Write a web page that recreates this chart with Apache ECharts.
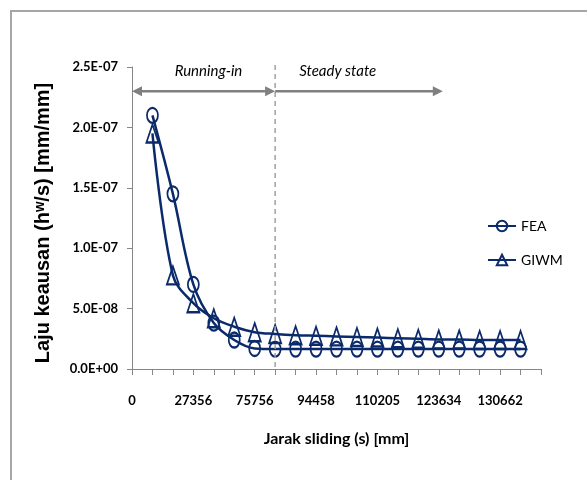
<!DOCTYPE html>
<html><head><meta charset="utf-8">
<script src="https://cdn.jsdelivr.net/npm/echarts@6/dist/echarts.min.js"></script>
<style>html,body{margin:0;padding:0;background:#fff}#c{width:587px;height:480px}</style>
</head><body><div id="c"></div>
<script>
// ---- data ----
const categories = ['0','','','27356','','','75756','','','94458','','','110205','','','123634','','','130662','',''];
const feaValues = [2.10e-7,1.45e-7,7.0e-8,3.8e-8,2.4e-8,1.7e-8,1.65e-8,1.65e-8,1.65e-8,1.65e-8,1.65e-8,1.65e-8,1.65e-8,1.65e-8,1.65e-8,1.65e-8,1.65e-8,1.65e-8,1.65e-8];
const giwmValues = [1.95e-7,7.75e-8,5.45e-8,4.2e-8,3.5e-8,3.05e-8,2.9e-8,2.8e-8,2.75e-8,2.7e-8,2.65e-8,2.6e-8,2.55e-8,2.5e-8,2.45e-8,2.45e-8,2.4e-8,2.4e-8,2.4e-8];
const seriesNames = ['FEA','GIWM'];
const yMin = 0, yMax = 2.5e-7, yStep = 5e-8;
const phaseLabels = ['Running-in','Steady state'];
const xTitle = 'Jarak sliding (s) [mm]';
const yTitle = 'Laju keausan (h\u02B7/s) [mm/mm]';
// annotation anchors (category index, value)
const boundaryIndex = 7;
const arrowY = 2.30e-7;
const steadyArrowEnd = 15.2;
const phaseLabelY = 2.465e-7;
const phaseLabelIdx = [3.74, 10.06];

const navy = '#0b2a6b';
const narrow = "Lato,'Liberation Sans',sans-serif";
const pad = v => [null].concat(v, [null]);

const chart = echarts.init(document.getElementById('c'), null, {renderer:'canvas'});
const option = {
  animation: false,
  backgroundColor: '#fff',
  grid: {left: 132, right: 46, top: 67, bottom: 111, containLabel: false},
  legend: {
    orient: 'vertical', left: 482, top: 214, itemWidth: 28, itemHeight: 13, itemGap: 20,
    textStyle: {fontFamily: narrow, fontSize: 14, color: '#000'},
    data: seriesNames
  },
  xAxis: {
    type: 'category', data: categories, boundaryGap: false,
    axisLine: {lineStyle: {color: '#868686', width: 1}},
    axisTick: {show: true, interval: 0, length: 6, lineStyle: {color: '#868686'}},
    axisLabel: {interval: 2, margin: 25, fontFamily: narrow, fontSize: 13, fontWeight: 'bold', color: '#000'},
    splitLine: {show: false},
    name: xTitle, nameLocation: 'middle', nameGap: 62,
    nameTextStyle: {fontFamily: narrow, fontSize: 16, fontWeight: 'bold', color: '#000'}
  },
  yAxis: {
    type: 'value', min: yMin, max: yMax, interval: yStep,
    axisLine: {show: true, lineStyle: {color: '#868686', width: 1}},
    axisTick: {show: true, length: 5, lineStyle: {color: '#868686'}},
    splitLine: {show: false},
    axisLabel: {
      margin: 14, fontFamily: narrow, fontSize: 13, fontWeight: 'bold', color: '#000',
      formatter: v => { const s = Number(v).toExponential(1).toUpperCase(); return s.replace(/E([+-])(\d)$/, 'E$10$2'); }
    },
    name: yTitle, nameLocation: 'middle', nameGap: 79, nameRotate: 90,
    nameTextStyle: {fontFamily: "'Liberation Sans',Arial,sans-serif", fontSize: 20, fontWeight: 'bold', color: '#000', padding: [0, 10, 0, 0]}
  },
  series: [
    {
      name: seriesNames[0], type: 'line', data: pad(feaValues), smooth: 0.35,
      symbol: 'circle', symbolSize: [11, 15], showSymbol: true, showAllSymbol: true,
      lineStyle: {color: navy, width: 2.5},
      itemStyle: {color: 'rgba(255,255,255,0)', borderColor: navy, borderWidth: 2}
    },
    {
      name: seriesNames[1], type: 'line', data: pad(giwmValues), smooth: 0.35,
      symbol: 'triangle', symbolSize: [12, 18], showSymbol: true, showAllSymbol: true,
      lineStyle: {color: navy, width: 2.5},
      itemStyle: {color: 'rgba(255,255,255,0)', borderColor: navy, borderWidth: 2}
    }
  ]
};
chart.setOption(option);

function px(idx) {
  const i0 = Math.floor(idx), f = idx - i0;
  const a = chart.convertToPixel({xAxisIndex: 0}, i0);
  if (f === 0) return a;
  const b = chart.convertToPixel({xAxisIndex: 0}, i0 + 1);
  return a + f * (b - a);
}
function py(v) { return chart.convertToPixel({yAxisIndex: 0}, v); }
function head(xTip, y, dir) {
  const L = 10, W = 5;
  return {type: 'polygon', shape: {points: [[xTip, y], [xTip - dir * L, y - W], [xTip - dir * L, y + W]]},
          style: {fill: '#808080'}, silent: true, z: 10};
}
const ya = py(arrowY), x0 = px(0), xb = px(boundaryIndex), xe = px(steadyArrowEnd);
const grey = '#808080';
const g = [
  {type: 'rect', shape: {x: 11, y: 11, width: 620, height: 520}, style: {fill: 'none', stroke: '#a6a6a6', lineWidth: 2}, silent: true, z: 0},
  {type: 'line', shape: {x1: xb, y1: py(yMax) - 2, x2: xb, y2: py(yMin)}, style: {stroke: '#a0a0a0', lineWidth: 1.5, lineDash: [5, 4]}, silent: true, z: 5},
  {type: 'line', shape: {x1: x0 + 8, y1: ya, x2: xb - 8, y2: ya}, style: {stroke: grey, lineWidth: 2.5}, silent: true, z: 10},
  head(x0, ya, -1), head(xb, ya, 1),
  {type: 'line', shape: {x1: xb, y1: ya, x2: xe - 8, y2: ya}, style: {stroke: grey, lineWidth: 2.5}, silent: true, z: 10},
  head(xe, ya, 1),
  {type: 'text', x: px(phaseLabelIdx[0]), y: py(phaseLabelY), style: {text: phaseLabels[0], fontFamily: narrow, fontSize: 15, fontStyle: 'italic', fill: '#000', align: 'center', verticalAlign: 'middle'}, silent: true, z: 10},
  {type: 'text', x: px(phaseLabelIdx[1]), y: py(phaseLabelY), style: {text: phaseLabels[1], fontFamily: narrow, fontSize: 15, fontStyle: 'italic', fill: '#000', align: 'center', verticalAlign: 'middle'}, silent: true, z: 10}
];
chart.setOption({graphic: g});
</script>
</body></html>
